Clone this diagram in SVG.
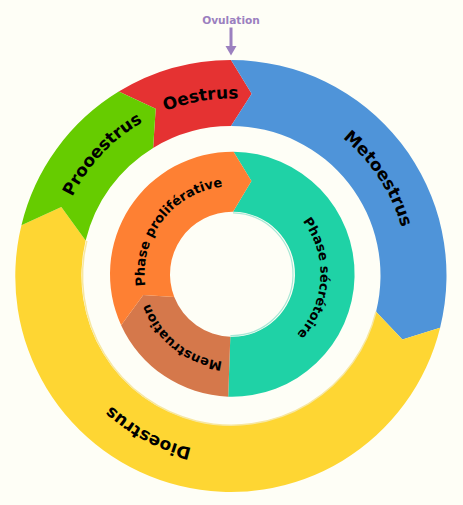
<svg xmlns="http://www.w3.org/2000/svg" width="463" height="505" viewBox="0 0 463 505">
<defs>
<style>
.lbl{font-family:"DejaVu Sans",Verdana,sans-serif;font-weight:bold;fill:#000}
.outer{font-size:17px}
.inner{font-size:13px}
.rim{fill:none}
</style>
<path id="pOestrus" d="M 54.0 274.57 A 177 177 0 0 1 397.64 215.83"/>
<path id="pProo" d="M 89.18 381.40 A 177 177 0 0 1 327.92 127.39"/>
<path id="pMeto" d="M 160.99 112.93 A 177 177 0 0 1 352.39 404.32"/>
<path id="pDio" d="M 371.05 383.74 A 177 177 0 0 1 62.38 221.69"/>
<path id="pProlif" d="M 167.10 333.08 A 88 88 0 0 1 273.81 196.50"/>
<path id="pSecr" d="M 252.30 188.46 A 88 88 0 0 1 243.22 361.54"/>
<path id="pMens" d="M 290.70 340.21 A 88 88 0 0 1 155.24 232.08"/>
</defs>
<rect width="463" height="505" fill="#fefef6"/>
<g id="ovulation">
<text x="231" y="23.5" text-anchor="middle" style="font-family:'DejaVu Sans',Verdana,sans-serif;font-weight:bold;font-size:10.6px;fill:#9b80bf">Ovulation</text>
</g>
<g id="connectors">
<line x1="231" y1="27.5" x2="231" y2="47" stroke="#9b80bf" stroke-width="3"/>
<polygon points="225.5,46 236.5,46 231,55.5" fill="#9b80bf"/>
</g>
<g id="oestrus">
<path d="M 118.72 91.56 A 215.5 215.5 0 0 1 231 60 L 251.71 93.68 L 231 126 A 149.5 149.5 0 0 0 153.11 147.89 L 155.69 108.71 Z" fill="#e53232"/>
<text class="lbl outer"><textPath href="#pOestrus" startOffset="50%" text-anchor="middle">Oestrus</textPath></text>
</g>
<g id="metoestrus">
<path d="M 231 60 A 215.5 215.5 0 0 1 440.10 327.63 L 402.41 339.59 L 376.06 311.67 A 149.5 149.5 0 0 0 231 126 L 251.71 93.68 Z" fill="#4f94d9"/>
<text class="lbl outer"><textPath href="#pMeto" startOffset="50%" text-anchor="middle">Metoestrus</textPath></text>
</g>
<g id="dioestrus">
<path d="M 440.10 327.63 A 215.5 215.5 0 0 1 21.45 225.19 L 61.33 206.95 L 85.63 240.6 A 149.5 149.5 0 0 0 376.06 311.67 L 402.41 339.59 Z" fill="#fed633"/>
<path class="rim" d="M 376.06 311.67 A 148.3 148.3 0 0 1 86.8 240.9" stroke="#f7e7a0" stroke-width="1.5"/>
<text class="lbl outer"><textPath href="#pDio" startOffset="50%" text-anchor="middle">Dioestrus</textPath></text>
</g>
<g id="proestrus">
<path d="M 21.45 225.19 A 215.5 215.5 0 0 1 118.72 91.56 L 155.69 108.71 L 153.11 147.89 A 149.5 149.5 0 0 0 85.63 240.6 L 61.33 206.95 Z" fill="#66cc00"/>
<text class="lbl outer"><textPath href="#pProo" startOffset="50%" text-anchor="middle">Prooestrus</textPath></text>
</g>
<g id="secretoire">
<path d="M 233.57 151.70 A 122.5 122.5 0 1 1 228.22 396.63 L 230.32 336.66 A 62.5 62.5 0 1 0 233.05 211.70 L 251.44 181.11 Z" fill="#1fd2a6"/>
<path class="rim" d="M 233.05 212.9 A 61.3 61.3 0 0 1 230.4 335.5" stroke="#a8e8d6" stroke-width="1.2"/>
<text class="lbl inner"><textPath href="#pSecr" startOffset="50%" text-anchor="middle">Phase sécrétoire</textPath></text>
</g>
<g id="menstruation">
<path d="M 228.22 396.63 A 122.5 122.5 0 0 1 121.12 325.19 L 143.28 294.96 L 174.27 296.9 A 62.5 62.5 0 0 0 230.32 336.66 Z" fill="#d5784b"/>
<text class="lbl inner"><textPath href="#pMens" startOffset="50%" text-anchor="middle">Menstruation</textPath></text>
</g>
<g id="proliferative">
<path d="M 121.12 325.19 A 122.5 122.5 0 0 1 233.57 151.70 L 251.44 181.11 L 233.05 211.70 A 62.5 62.5 0 0 0 174.27 296.9 L 143.28 294.96 Z" fill="#fe8033"/>
<text class="lbl inner"><textPath href="#pProlif" startOffset="50%" text-anchor="middle">Phase proliférative</textPath></text>
</g>
</svg>
